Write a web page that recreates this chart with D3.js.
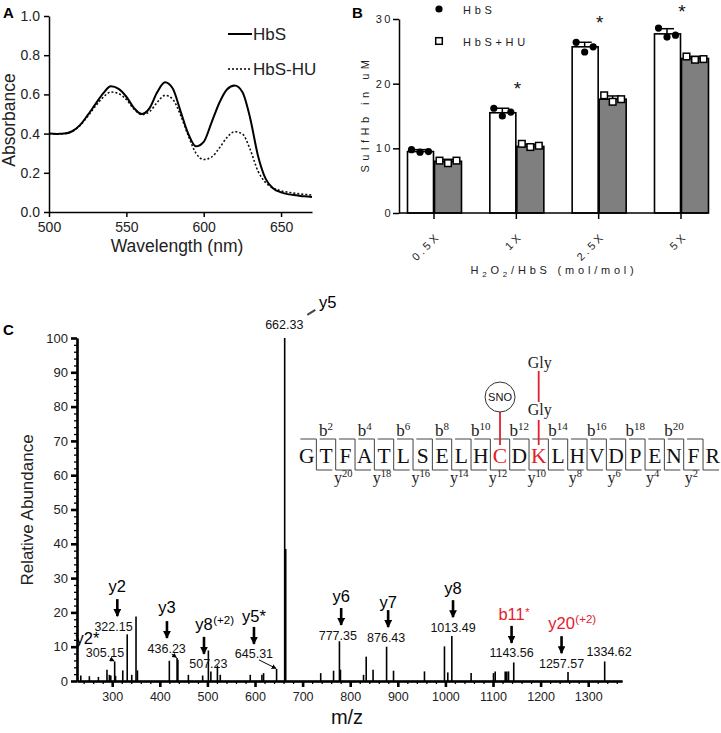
<!DOCTYPE html>
<html>
<head>
<meta charset="utf-8">
<script src="https://cdn.jsdelivr.net/npm/d3@7"></script>
<style>
  body { margin: 0; background: #fff; }
  svg { display: block; font-family: "Liberation Sans", Arial, sans-serif; }
</style>
</head>
<body>
<svg width="721" height="733"></svg>
<script>
// ---- data: panel A (absorbance spectra) ----
let wavelengths = [500,505,510,515,520,525,530,535,540,545,550,555,560,565,570,575,580,585,590,595,600,605,610,615,620,625,630,635,640,645,650,655,660,665,670];
let hbsAbs = [0.400,0.398,0.400,0.412,0.443,0.494,0.550,0.605,0.641,0.628,0.588,0.530,0.500,0.530,0.612,0.662,0.630,0.515,0.400,0.335,0.358,0.455,0.555,0.625,0.645,0.612,0.480,0.290,0.170,0.120,0.100,0.090,0.085,0.080,0.077];
let huAbs  = [0.400,0.398,0.400,0.411,0.440,0.488,0.540,0.585,0.612,0.604,0.574,0.525,0.497,0.512,0.560,0.595,0.575,0.495,0.390,0.300,0.268,0.280,0.325,0.380,0.410,0.398,0.320,0.210,0.150,0.122,0.108,0.100,0.094,0.090,0.086];
let aTicksX = [500, 550, 600, 650];
let aTicksY = [0, 0.2, 0.4, 0.6, 0.8, 1];

// ---- data: panel B (SulfHb bars) ----
let doses = ['0.5X', '1X', '2.5X', '5X'];
let hbsMean = [9.5, 15.5, 25.7, 27.7];
let hbsErr = [0.3, 0.7, 0.7, 0.8];
let huMean = [8.0, 10.3, 17.6, 23.9];
let huErr = [0.3, 0.3, 0.5, 0.3];
let hbsPts = [[9.8, 9.4, 9.5], [16.2, 15.0, 15.6], [26.4, 24.9, 25.7], [28.6, 27.2, 27.5]];
let huPts = [[8.1, 7.7, 8.1], [10.7, 10.2, 10.4], [18.2, 17.2, 17.6], [24.2, 23.7, 23.8]];
let sigStars = [null, 20.1, 30.3, 32.0];
let bTicksY = [0, 10, 20, 30];

// ---- data: panel C (MS/MS spectrum) ----
let peakMz = [234,252,271,289,294,297,305.15,307,322.15,331.5,341,350,353,420,436.23,438,460,490,502,507.23,521,527,590,614.5,618,645.31,662.33,664.5,738,765,777.35,779.5,828,833.6,848,876.43,891,956,998,1005,1013.49,1054,1101,1104.6,1125.6,1129,1132.6,1143.56,1257.57,1334.62];
let peakInt = [1.6,1.4,1.2,3.3,1.8,1.6,5.7,1.5,3.1,13.6,1.8,18.8,3.1,5.9,6.7,6.2,1.8,1.6,8.9,2.8,4.5,1.8,1.8,1.8,2.3,3.5,100,38.5,2.3,3.0,11.6,3.3,1.8,7.1,3.3,10.0,3.0,2.8,10.1,2.5,13.1,2.3,2.3,2.8,2.8,2.8,2.8,5.4,2.6,5.7];
let cTicksX = [300,400,500,600,700,800,900,1000,1100,1200,1300];
let cTicksY = [0,10,20,30,40,50,60,70,80,90,100];
let annotations = [
  {ion:'y2',  sup:'',     red:false, ionMz:310.7, ionAt:27.7, num:'322.15',  numMz:302.7, numAt:16.0, arrow:true},
  {ion:'y2*', sup:'',     red:false, ionMz:248,   ionAt:12.5, num:'305.15',  numMz:284.8, numAt:8.2,  arrow:false, target:6},
  {ion:'y3',  sup:'',     red:false, ionMz:415,   ionAt:21.6, num:'436.23',  numMz:414.4, numAt:9.6,  arrow:true,  target:14},
  {ion:'y8',  sup:'(+2)', red:false, ionMz:492.8, ionAt:16.6, num:'507.23',  numMz:502,   numAt:5.0,  arrow:true},
  {ion:'y5*', sup:'',     red:false, ionMz:597.8, ionAt:19.0, num:'645.31',  numMz:597.8, numAt:7.9,  arrow:true,  target:25},
  {ion:'y5',  sup:'',     red:false, ionMz:753,   ionAt:110.5,num:'662.33',  numMz:661.5, numAt:103.8,arrow:false, tag:true},
  {ion:'y6',  sup:'',     red:false, ionMz:781,   ionAt:24.8, num:'777.35',  numMz:774,   numAt:13.4, arrow:true},
  {ion:'y7',  sup:'',     red:false, ionMz:879.7, ionAt:23.0, num:'876.43',  numMz:875.5, numAt:12.8, arrow:true},
  {ion:'y8',  sup:'',     red:false, ionMz:1016,  ionAt:27.1, num:'1013.49', numMz:1016,  numAt:15.7, arrow:true},
  {ion:'b11', sup:'*',    red:true,  ionMz:1139,  ionAt:19.5, num:'1143.56', numMz:1139,  numAt:8.2,  arrow:true},
  {ion:'y20', sup:'(+2)', red:true,  ionMz:1244,  ionAt:16.9, num:'1257.57', numMz:1244,  numAt:5.2,  arrow:true},
  {ion:'',    sup:'',     red:false, ionMz:1344,  ionAt:0,    num:'1334.62', numMz:1344,  numAt:8.7,  arrow:false}
];

// ---- data: peptide map ----
let residues = 'GTFATLSELHCDKLHVDPENFR'.split('');
let modified = [10, 12];
let bIons = [2, 4, 6, 8, 10, 12, 14, 16, 18, 20];
let yIons = [20, 18, 16, 14, 12, 10, 8, 6, 4, 2];

let FONT = '"Liberation Sans", Arial, sans-serif';
let SERIF = '"Liberation Serif", "Times New Roman", serif';
let RED = '#e3202b';

let svg = d3.select('svg');

function styleAxis(g, size, width) {
  g.attr('font-family', FONT).attr('font-size', size);
  g.select('.domain').attr('stroke', '#000').attr('stroke-width', width);
  g.selectAll('.tick line').attr('stroke', '#000').attr('stroke-width', width);
  g.selectAll('.tick text').attr('fill', '#222');
}

// ================= Panel A =================
let aX = d3.scaleLinear().domain([500, 670]).range([49, 312]);
let aY = d3.scaleLinear().domain([0, 1]).range([212, 16]);
let gA = svg.append('g');

gA.append('text').attr('x', 3).attr('y', 18).attr('font-weight', 'bold').attr('font-size', 15).text('A');

gA.append('g').attr('transform', 'translate(0,212)')
  .call(d3.axisBottom(aX).tickValues(aTicksX).tickSize(5).tickSizeOuter(0).tickPadding(5))
  .call(g => styleAxis(g, 14, 1.5));
gA.append('g').attr('transform', 'translate(49,0)')
  .call(d3.axisLeft(aY).tickValues(aTicksY).tickSize(5).tickSizeOuter(0).tickPadding(4))
  .call(g => styleAxis(g, 14, 1.5));

let lineA = d3.line().x((d, i) => aX(wavelengths[i])).y(d => aY(d)).curve(d3.curveMonotoneX);
gA.append('path').attr('d', lineA(huAbs)).attr('fill', 'none')
  .attr('stroke', '#111').attr('stroke-width', 1.6).attr('stroke-dasharray', '2,2');
gA.append('path').attr('d', lineA(hbsAbs)).attr('fill', 'none')
  .attr('stroke', '#000').attr('stroke-width', 2);

// legend
[{name: 'HbS', dash: null, y: 34}, {name: 'HbS-HU', dash: '2,2', y: 69}].forEach(l => {
  gA.append('line').attr('x1', 228).attr('x2', 252).attr('y1', l.y).attr('y2', l.y)
    .attr('stroke', '#000').attr('stroke-width', l.dash ? 1.6 : 2).attr('stroke-dasharray', l.dash);
  gA.append('text').attr('x', 253).attr('y', l.y + 6).attr('font-size', 17).attr('fill', '#222').text(l.name);
});

gA.append('text').attr('x', 177).attr('y', 252).attr('text-anchor', 'middle')
  .attr('font-size', 17.5).attr('fill', '#222').text('Wavelength (nm)');
gA.append('text').attr('transform', 'translate(15,120) rotate(-90)').attr('text-anchor', 'middle')
  .attr('font-size', 17.5).attr('fill', '#222').text('Absorbance');

// ================= Panel B =================
let bX = d3.scalePoint().domain(doses).range([434, 681]);
let bY = d3.scaleLinear().domain([0, 30]).range([213, 19]);
let gB = svg.append('g');
let spaced = 3.7;

gB.append('text').attr('x', 352).attr('y', 18).attr('font-weight', 'bold').attr('font-size', 15).text('B');

gB.append('g').attr('transform', 'translate(399,0)')
  .call(d3.axisLeft(bY).tickValues(bTicksY).tickSize(6).tickSizeOuter(0).tickPadding(0))
  .call(g => styleAxis(g, 11, 1.5))
  .call(g => g.selectAll('.tick text').style('letter-spacing', '2.5px'));

let barW = 26;
let pairs = doses.map((d, i) => ({d: d, i: i}));

// bars
gB.selectAll('rect.hbs').data(pairs).enter().append('rect').attr('class', 'hbs')
  .attr('x', p => bX(p.d) - barW - 0.5).attr('width', barW)
  .attr('y', p => bY(hbsMean[p.i])).attr('height', p => bY(0) - bY(hbsMean[p.i]))
  .attr('fill', '#fff').attr('stroke', '#000').attr('stroke-width', 1.6);
gB.selectAll('rect.hu').data(pairs).enter().append('rect').attr('class', 'hu')
  .attr('x', p => bX(p.d) + 0.5).attr('width', barW + 1)
  .attr('y', p => bY(huMean[p.i])).attr('height', p => bY(0) - bY(huMean[p.i]))
  .attr('fill', '#7f7f7f').attr('stroke', '#000').attr('stroke-width', 1.6);

// error whiskers
function whisker(cx, mean, err) {
  gB.append('line').attr('x1', cx).attr('x2', cx).attr('y1', bY(mean)).attr('y2', bY(mean + err))
    .attr('stroke', '#000').attr('stroke-width', 1.5);
  gB.append('line').attr('x1', cx - 7).attr('x2', cx + 7).attr('y1', bY(mean + err)).attr('y2', bY(mean + err))
    .attr('stroke', '#000').attr('stroke-width', 1.5);
}
pairs.forEach(p => {
  whisker(bX(p.d) - 14, hbsMean[p.i], hbsErr[p.i]);
  whisker(bX(p.d) + 14, huMean[p.i], huErr[p.i]);
});

// individual points
let offs = [-8.5, 0, 8.5];
pairs.forEach(p => {
  hbsPts[p.i].forEach((v, k) => {
    gB.append('circle').attr('cx', bX(p.d) - 14 + offs[k]).attr('cy', bY(v)).attr('r', 3.6).attr('fill', '#000');
  });
  huPts[p.i].forEach((v, k) => {
    gB.append('rect').attr('x', bX(p.d) + 14 + offs[k] - 3.3).attr('y', bY(v) - 3.3)
      .attr('width', 6.6).attr('height', 6.6).attr('fill', '#fff').attr('stroke', '#000').attr('stroke-width', 1.5);
  });
});

// significance stars
pairs.filter(p => sigStars[p.i] != null).forEach(p => {
  gB.append('text').attr('x', bX(p.d) + 1).attr('y', bY(sigStars[p.i]) + 12).attr('text-anchor', 'middle')
    .attr('font-size', 19).attr('fill', '#111').text('*');
});

// x axis of B
gB.append('line').attr('x1', 399).attr('x2', 708).attr('y1', 213).attr('y2', 213)
  .attr('stroke', '#000').attr('stroke-width', 1.6);
doses.forEach(d => {
  gB.append('line').attr('x1', bX(d)).attr('x2', bX(d)).attr('y1', 213).attr('y2', 219)
    .attr('stroke', '#000').attr('stroke-width', 1.5);
  gB.append('text').attr('transform', `translate(${bX(d) + 7},${237}) rotate(-45)`)
    .attr('text-anchor', 'end').attr('font-size', 11).attr('fill', '#222')
    .style('letter-spacing', '3px').text(d);
});

// legend B
gB.append('circle').attr('cx', 439).attr('cy', 9).attr('r', 3.6).attr('fill', '#000');
gB.append('text').attr('x', 463).attr('y', 14).attr('font-size', 11).attr('fill', '#222')
  .style('letter-spacing', spaced + 'px').text('HbS');
gB.append('rect').attr('x', 435.7).attr('y', 37.7).attr('width', 6.6).attr('height', 6.6)
  .attr('fill', '#fff').attr('stroke', '#000').attr('stroke-width', 1.5);
gB.append('text').attr('x', 463).attr('y', 46).attr('font-size', 11).attr('fill', '#222')
  .style('letter-spacing', spaced + 'px').text('HbS+HU');

// titles B
let tB = gB.append('text').attr('x', 554).attr('y', 274).attr('text-anchor', 'middle')
  .attr('font-size', 11).attr('fill', '#222').style('letter-spacing', '3.8px');
tB.append('tspan').text('H');
tB.append('tspan').attr('font-size', 8).attr('dy', 3).text('2');
tB.append('tspan').attr('dy', -3).text('O');
tB.append('tspan').attr('font-size', 8).attr('dy', 3).text('2');
tB.append('tspan').attr('dy', -3).text('/HbS (mol/mol)');
gB.append('text').attr('transform', 'translate(369,114) rotate(-90)').attr('text-anchor', 'middle')
  .attr('font-size', 11).attr('fill', '#222').style('letter-spacing', '4.5px').text('SulfHb in uM');

// ================= Panel C =================
let cX = d3.scaleLinear().domain([226, 1371]).range([77, 622]);
let cY = d3.scaleLinear().domain([0, 100]).range([681, 338]);
let gC = svg.append('g');

gC.append('text').attr('x', 3).attr('y', 335).attr('font-weight', 'bold').attr('font-size', 15).text('C');

// minor ticks
let minorX = d3.range(240, 1371, 20).filter(v => v % 100 !== 0);
let minorY = d3.range(0, 101, 2).filter(v => v % 10 !== 0);
gC.append('g').attr('transform', 'translate(0,681)')
  .call(d3.axisBottom(cX).tickValues(minorX).tickSize(3).tickSizeOuter(0).tickFormat(''))
  .call(g => styleAxis(g, 12, 1.3));
gC.append('g').attr('transform', 'translate(77,0)')
  .call(d3.axisLeft(cY).tickValues(minorY).tickSize(3).tickSizeOuter(0).tickFormat(''))
  .call(g => styleAxis(g, 12, 1.3));

// peaks
gC.selectAll('line.peak').data(peakMz).enter().append('line').attr('class', 'peak')
  .attr('x1', d => cX(d)).attr('x2', d => cX(d))
  .attr('y1', cY(0)).attr('y2', (d, i) => cY(peakInt[i]))
  .attr('stroke', '#000').attr('stroke-width', 1.6);

gC.append('g').attr('transform', 'translate(0,681)')
  .call(d3.axisBottom(cX).tickValues(cTicksX).tickSize(6).tickSizeOuter(0).tickPadding(5).tickFormat(d3.format('d')))
  .call(g => styleAxis(g, 12.5, 2.6));
gC.append('g').attr('transform', 'translate(77,0)')
  .call(d3.axisLeft(cY).tickValues(cTicksY).tickSize(6).tickSizeOuter(0).tickPadding(3))
  .call(g => styleAxis(g, 13, 2.6));

// arrowhead markers
let defs = svg.append('defs');
defs.append('marker').attr('id', 'head').attr('viewBox', '0 0 10 10')
  .attr('refX', 9).attr('refY', 5).attr('markerWidth', 3).attr('markerHeight', 3)
  .attr('markerUnits', 'strokeWidth').attr('orient', 'auto')
  .append('path').attr('d', 'M0,0 L10,5 L0,10 z').attr('fill', '#000');
defs.append('marker').attr('id', 'smallhead').attr('viewBox', '0 0 10 10')
  .attr('refX', 9).attr('refY', 5).attr('markerWidth', 5).attr('markerHeight', 5)
  .attr('markerUnits', 'strokeWidth').attr('orient', 'auto')
  .append('path').attr('d', 'M0,0 L10,5 L0,10 z').attr('fill', '#000');

annotations.forEach(a => {
  let nx = cX(a.numMz), ny = cY(a.numAt);
  let ix = cX(a.ionMz), iy = cY(a.ionAt);
  let col = a.red ? RED : '#000';
  gC.append('text').attr('x', nx).attr('y', ny + 4.5).attr('text-anchor', 'middle')
    .attr('font-size', 12.5).attr('fill', '#111').text(a.num);
  if (a.ion) {
    let t = gC.append('text').attr('x', ix).attr('y', iy + 6).attr('text-anchor', 'middle')
      .attr('font-size', 16.5).attr('fill', col).text(a.ion);
    if (a.sup) {
      let w = t.node().getComputedTextLength();
      gC.append('text').attr('x', ix + w / 2 + 0.5).attr('y', iy + (a.sup === '*' ? 2 : 0))
        .attr('font-size', a.sup === '*' ? 11 : 11.5).attr('fill', col).text(a.sup);
    }
  }
  if (a.arrow) {
    gC.append('line').attr('x1', ix).attr('x2', ix).attr('y1', ny - 27).attr('y2', ny - 10)
      .attr('stroke', '#000').attr('stroke-width', 2.6).attr('marker-end', 'url(#head)');
  }
  if (a.target != null) {
    gC.append('line').attr('x1', nx + 5).attr('y1', ny + 6)
      .attr('x2', cX(peakMz[a.target]) - 0.5).attr('y2', cY(peakInt[a.target]) - 0.5)
      .attr('stroke', '#000').attr('stroke-width', 1).attr('marker-end', 'url(#smallhead)');
  }
  if (a.tag) {
    gC.append('line').attr('x1', nx + 23).attr('y1', ny - 10).attr('x2', nx + 31).attr('y2', ny - 15)
      .attr('stroke', '#444').attr('stroke-width', 2);
  }
});

gC.append('text').attr('x', 347).attr('y', 724).attr('text-anchor', 'middle')
  .attr('font-size', 20).attr('fill', '#111').text('m/z');
gC.append('text').attr('transform', 'translate(33,510) rotate(-90)').attr('text-anchor', 'middle')
  .attr('font-size', 17).attr('fill', '#222').text('Relative Abundance');

// ---------- peptide fragment map ----------
let seqX = d3.scalePoint().domain(d3.range(residues.length)).range([306.7, 712.7]);
let gP = svg.append('g').attr('font-family', SERIF);

// cleavage brackets
d3.range(residues.length - 1).forEach(i => {
  let xs = (seqX(i) + seqX(i + 1)) / 2;
  gP.append('path').attr('d', `M${xs - 16},439 H${xs} V470 H${xs + 16}`)
    .attr('fill', 'none').attr('stroke', '#444').attr('stroke-width', 1);
});

gP.selectAll('text.res').data(residues).enter().append('text').attr('class', 'res')
  .attr('x', (d, i) => seqX(i)).attr('y', 463).attr('text-anchor', 'middle')
  .attr('font-size', 21.5).attr('fill', (d, i) => modified.includes(i) ? RED : '#111')
  .text(d => d);

bIons.forEach(n => {
  let t = gP.append('text').attr('x', seqX(n - 1)).attr('y', 436).attr('text-anchor', 'middle')
    .attr('font-size', 17).attr('fill', '#222');
  t.append('tspan').text('b');
  t.append('tspan').attr('font-size', 11).attr('dy', -6).text(n);
});
yIons.forEach(n => {
  let t = gP.append('text').attr('x', seqX(residues.length - n) - 2).attr('y', 483).attr('text-anchor', 'middle')
    .attr('font-size', 16).attr('fill', '#222');
  t.append('tspan').text('y');
  t.append('tspan').attr('font-size', 10.5).attr('dy', -6).text(n);
});

// modifications
let cPos = seqX(modified[0]), kPos = seqX(modified[1]);
gP.append('line').attr('x1', cPos).attr('x2', cPos).attr('y1', 412).attr('y2', 445)
  .attr('stroke', RED).attr('stroke-width', 1.8);
gP.append('circle').attr('cx', cPos).attr('cy', 397).attr('r', 15)
  .attr('fill', '#fff').attr('stroke', '#333').attr('stroke-width', 1);
gP.append('text').attr('x', cPos).attr('y', 401).attr('text-anchor', 'middle')
  .attr('font-family', FONT).attr('font-size', 11).attr('fill', '#111').text('SNO');
gP.append('line').attr('x1', kPos).attr('x2', kPos).attr('y1', 420).attr('y2', 445)
  .attr('stroke', RED).attr('stroke-width', 1.8);
gP.append('line').attr('x1', kPos).attr('x2', kPos).attr('y1', 371).attr('y2', 402)
  .attr('stroke', RED).attr('stroke-width', 1.8);
gP.append('text').attr('x', kPos + 1).attr('y', 415).attr('text-anchor', 'middle')
  .attr('font-size', 16).attr('fill', '#222').text('Gly');
gP.append('text').attr('x', kPos + 1).attr('y', 368).attr('text-anchor', 'middle')
  .attr('font-size', 16).attr('fill', '#222').text('Gly');
</script>
</body>
</html>
